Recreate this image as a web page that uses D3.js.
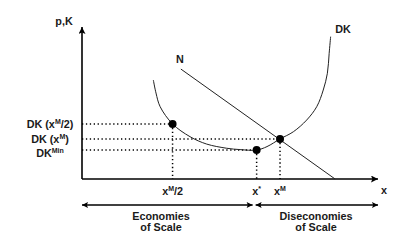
<!DOCTYPE html>
<html><head><meta charset="utf-8">
<script src="https://cdn.jsdelivr.net/npm/d3@7"></script>
<style>body{margin:0;background:#fff}svg{display:block}text{font-family:"Liberation Sans",Arial,sans-serif;fill:#1a1a1a;font-weight:bold}</style>
</head><body><svg id="c" width="394" height="249"></svg>
<script>
// Data (abstract units: quantity x 0..100, cost 0..100)
const dkCurve = [[24.1,66],[25.0,57.3],[26.4,48.2],[30.6,36.7],[36.5,28.2],[42.1,23.3],[48.9,20.5],[53.4,19.6],[59.0,19.3],[62.5,21.6],[66.9,26.7],[71.4,31.5],[75.9,39.3],[79.3,48.2],[81.5,59.3],[82.9,70.5],[83.5,83.8],[84.0,94.9]];
const nLine = [[33.4,73.3],[85.5,0]];
const keyX = [30.6, 59.0, 66.9];            // xM/2, x*, xM
const keyY = [36.7, 26.7, 19.3];            // DK(xM/2), DK(xM), DKmin
const keyPoints = [[30.6,36.7],[59.0,19.3],[66.9,26.7]];
const xTickLabels = [["x","M","/2"],["x","*",""],["x","M",""]];
const yTickLabels = [["DK (x","M","/2)"],["DK (x","M",")"],["DK","Min",""]];
const scaleTexts = [["Economies","of Scale"],["Diseconomies","of Scale"]];
const scaleRanges = [[0,59.0],[59.0,100]];

const svg = d3.select("#c");
const x = d3.scaleLinear().domain([0,100]).range([82,378]);
const y = d3.scaleLinear().domain([0,100]).range([179,29]);

const defs = svg.append("defs");
defs.append("marker").attr("id","ah").attr("viewBox","0 0 10 10").attr("refX",10).attr("refY",5)
  .attr("markerWidth",10).attr("markerHeight",7).attr("markerUnits","userSpaceOnUse").attr("orient","auto-start-reverse")
  .append("path").attr("d","M0,0L10,5L0,10L2,5Z").attr("fill","#000");
defs.append("marker").attr("id","ah2").attr("viewBox","0 0 10 10").attr("refX",10).attr("refY",5)
  .attr("markerWidth",9).attr("markerHeight",6).attr("markerUnits","userSpaceOnUse").attr("orient","auto-start-reverse")
  .append("path").attr("d","M0,0L10,5L0,10L2,5Z").attr("fill","#000");

// axes
svg.append("line").attr("x1",x(0)).attr("y1",y(0)).attr("x2",x(0)).attr("y2",27)
  .attr("stroke","#000").attr("stroke-width",1.6).attr("marker-end","url(#ah)");
svg.append("line").attr("x1",x(0)).attr("y1",y(0)).attr("x2",x(100)).attr("y2",y(0))
  .attr("stroke","#000").attr("stroke-width",1.6).attr("marker-end","url(#ah)");

// dotted guides
const dot = {stroke:"#000","stroke-width":1.5,"stroke-dasharray":"1.3,2.6"};
function applyAttrs(sel,o){for(const k in o) sel.attr(k,o[k]); return sel;}
keyPoints.forEach(p=>{
  applyAttrs(svg.append("line").attr("x1",x(0)).attr("y1",y(p[1])).attr("x2",x(p[0])).attr("y2",y(p[1])),dot);
  applyAttrs(svg.append("line").attr("x1",x(p[0])).attr("y1",y(p[1])).attr("x2",x(p[0])).attr("y2",y(0)),dot);
});

// N line
svg.append("path").attr("d",d3.line().x(d=>x(d[0])).y(d=>y(d[1]))(nLine))
  .attr("fill","none").attr("stroke","#222").attr("stroke-width",1);
// DK curve
svg.append("path").attr("d",d3.line().x(d=>x(d[0])).y(d=>y(d[1])).curve(d3.curveCatmullRom.alpha(0.5))(dkCurve))
  .attr("fill","none").attr("stroke","#222").attr("stroke-width",1);

// points
svg.selectAll("circle.k").data(keyPoints).join("circle").attr("cx",d=>x(d[0])).attr("cy",d=>y(d[1])).attr("r",4).attr("fill","#000");

// labels
const fs = 10.8;
svg.append("text").attr("x",64).attr("y",25).attr("text-anchor","middle").attr("font-size",fs).text("p,K");
svg.append("text").attr("x",180).attr("y",63).attr("text-anchor","middle").attr("font-size",fs).text("N");
svg.append("text").attr("x",343).attr("y",33).attr("text-anchor","middle").attr("font-size",fs).text("DK");
svg.append("text").attr("x",384).attr("y",194).attr("text-anchor","middle").attr("font-size",fs).text("x");

function rich(t, parts){
  t.append("tspan").text(parts[0]);
  t.append("tspan").attr("font-size",7).attr("dy",-4).text(parts[1]);
  if(parts[2]) t.append("tspan").attr("dy",4).text(parts[2]);
}
keyX.forEach((v,i)=>{
  const t = svg.append("text").attr("x",x(v)).attr("y",195).attr("text-anchor","middle").attr("font-size",fs);
  rich(t,xTickLabels[i]);
});
const yOff=[4,4,7];
keyY.forEach((v,i)=>{
  const t = svg.append("text").attr("x",50).attr("y",y(v)+yOff[i]).attr("text-anchor","middle").attr("font-size",fs);
  rich(t,yTickLabels[i]);
});

// bottom arrows
scaleRanges.forEach((r,i)=>{
  const a = i===0 ? x(r[0]) : x(r[0])-1;
  const b = i===0 ? x(r[1])-4 : x(r[1]);
  svg.append("line").attr("x1",a).attr("y1",205).attr("x2",b).attr("y2",205)
    .attr("stroke","#000").attr("stroke-width",1.3)
    .attr("marker-start","url(#ah2)").attr("marker-end","url(#ah2)");
});

const cx = [161,316];
scaleTexts.forEach((b,i)=>{
  svg.append("text").attr("x",cx[i]).attr("y",220).attr("text-anchor","middle").attr("font-size",fs).text(b[0]);
  svg.append("text").attr("x",cx[i]).attr("y",231).attr("text-anchor","middle").attr("font-size",fs).text(b[1]);
});
</script></body></html>
